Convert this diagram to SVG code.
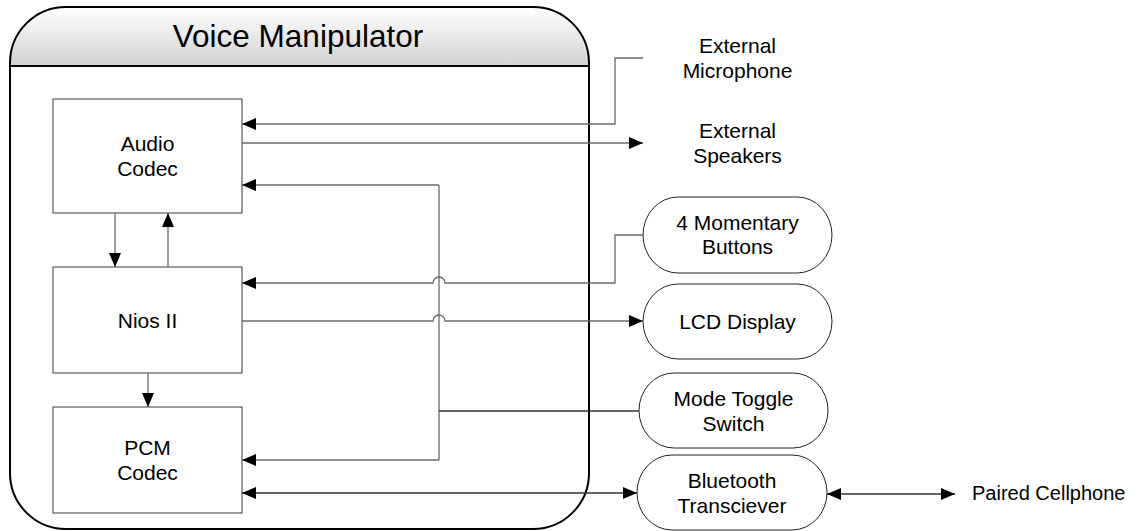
<svg xmlns="http://www.w3.org/2000/svg" width="1140" height="531" viewBox="0 0 1140 531">
  <defs>
    <linearGradient id="headerFill" x1="0" y1="0" x2="0" y2="1">
      <stop offset="0" stop-color="#ffffff"/>
      <stop offset="1" stop-color="#d2d2d2"/>
    </linearGradient>
    <marker id="arrow" markerUnits="userSpaceOnUse" markerWidth="15" markerHeight="13" refX="14" refY="6" orient="auto-start-reverse">
      <path d="M0,0 L14,6 L0,12 Z" fill="#000"/>
    </marker>
    <style>
      text { font-family: "Liberation Sans", Arial, sans-serif; fill: #000; text-anchor: middle; }
      .lbl { font-size: 21px; }
      .title { font-size: 31.5px; }
      .box { fill: #fff; stroke: #3a3a3a; stroke-width: 1; }
      .pill { fill: #fff; stroke: #222; stroke-width: 1; }
      .wire { fill: none; stroke: #6a6a6a; stroke-width: 1.3; }
      .wire.dark { stroke: #333; }
      .arr { marker-end: url(#arrow); }
      .both { marker-start: url(#arrow); marker-end: url(#arrow); }
    </style>
  </defs>

  <!-- outer system frame -->
  <g id="voice-manipulator">
    <path d="M66,7 H533 A56,56 0 0 1 589,63 V473 A56,56 0 0 1 533,529 H66 A56,56 0 0 1 10,473 V63 A56,56 0 0 1 66,7 Z" fill="#fff"/>
    <path d="M10,66 V63 A56,56 0 0 1 66,7 H533 A56,56 0 0 1 589,63 V66 Z" fill="url(#headerFill)"/>
    <path d="M66,7 H533 A56,56 0 0 1 589,63 V473 A56,56 0 0 1 533,529 H66 A56,56 0 0 1 10,473 V63 A56,56 0 0 1 66,7 Z" fill="none" stroke="#000" stroke-width="2"/>
    <line x1="10" y1="66" x2="589" y2="66" stroke="#000" stroke-width="2"/>
    <text class="title" x="298" y="47">Voice Manipulator</text>
  </g>

  <!-- internal blocks -->
  <g id="audio-codec">
    <rect class="box" x="53" y="99" width="189" height="114"/>
    <text class="lbl" x="147.5" y="151">Audio</text>
    <text class="lbl" x="147.5" y="176">Codec</text>
  </g>
  <g id="nios-ii">
    <rect class="box" x="53" y="267" width="189" height="106"/>
    <text class="lbl" x="147.5" y="327.5">Nios II</text>
  </g>
  <g id="pcm-codec">
    <rect class="box" x="53" y="407" width="189" height="106"/>
    <text class="lbl" x="147.5" y="455">PCM</text>
    <text class="lbl" x="147.5" y="480">Codec</text>
  </g>

  <!-- external peripherals -->
  <g id="external-microphone">
    <text class="lbl" x="737.5" y="53">External</text>
    <text class="lbl" x="737.5" y="78">Microphone</text>
  </g>
  <g id="external-speakers">
    <text class="lbl" x="737.5" y="138">External</text>
    <text class="lbl" x="737.5" y="163">Speakers</text>
  </g>
  <g id="momentary-buttons">
    <rect class="pill" x="643" y="197" width="189" height="76" rx="35" ry="38"/>
    <text class="lbl" x="737.5" y="230">4 Momentary</text>
    <text class="lbl" x="737.5" y="254">Buttons</text>
  </g>
  <g id="lcd-display">
    <rect class="pill" x="643" y="284" width="189" height="75" rx="35" ry="37.5"/>
    <text class="lbl" x="737.5" y="328.5">LCD Display</text>
  </g>
  <g id="mode-toggle-switch">
    <rect class="pill" x="639" y="373" width="189" height="75" rx="35" ry="37.5"/>
    <text class="lbl" x="733.5" y="406">Mode Toggle</text>
    <text class="lbl" x="733.5" y="430.5">Switch</text>
  </g>
  <g id="bluetooth-transceiver">
    <rect class="pill" x="637" y="455" width="190" height="75" rx="35" ry="37.5"/>
    <text class="lbl" x="732" y="487.5">Bluetooth</text>
    <text class="lbl" x="732" y="512.5">Transciever</text>
  </g>
  <g id="paired-cellphone">
    <text class="lbl" x="972" y="500" style="text-anchor:start;font-size:20px">Paired Cellphone</text>
  </g>

  <!-- connectors -->
  <g id="connectors">
    <path class="wire arr" d="M643,58 H615 V124 H242"/>
    <path class="wire arr" d="M242,143 H643"/>
    <path class="wire arr" d="M439,185 H242"/>
    <path class="wire" d="M439,185 V460"/>
    <path class="wire arr" d="M439,460 H242"/>
    <path class="wire dark" d="M439,411 H639"/>
    <path class="wire arr" d="M643,235 H615 V283 H445 a6,6 0 0 0 -12,0 H242"/>
    <path class="wire arr" d="M242,321 H433 a6,6 0 0 1 12,0 H643"/>
    <path class="wire dark both" d="M242,493 H637"/>
    <path class="wire dark both" d="M827,494 H955"/>
    <path class="wire arr" d="M115,213 V267"/>
    <path class="wire arr" d="M168,267 V213"/>
    <path class="wire arr" d="M148,373 V407"/>
  </g>
</svg>
